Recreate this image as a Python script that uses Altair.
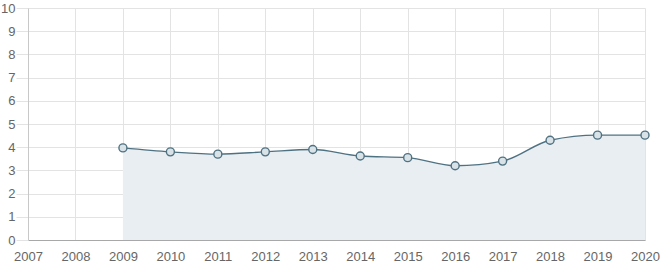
import altair as alt
import pandas as pd

years = [2009, 2010, 2011, 2012, 2013, 2014, 2015, 2016, 2017, 2018, 2019, 2020]
values = [3.97, 3.8, 3.7, 3.8, 3.9, 3.62, 3.55, 3.2, 3.4, 4.3, 4.52, 4.52]
x_ticks = list(range(2007, 2021))
y_ticks = list(range(0, 11))

df = pd.DataFrame({"year": years, "value": values})

line_color = "#4f7282"

x = alt.X("year:Q", scale=alt.Scale(domain=[2007, 2020], nice=False),
          axis=alt.Axis(values=x_ticks, format="d", title=None, grid=True,
                        gridColor="#e3e3e3", ticks=False, labelPadding=10,
                        labelFlush=False, labelOverlap=False,
                        domainColor="#a8a8a8", labelColor="#666", labelFontSize=13,
                        labelFont="Liberation Sans"))
y = alt.Y("value:Q", scale=alt.Scale(domain=[0, 10], nice=False),
          axis=alt.Axis(values=y_ticks, title=None, grid=True, gridColor="#e3e3e3",
                        tickColor="#e3e3e3", tickSize=12, labelPadding=1,
                        labelFlush=False, labelOverlap=False,
                        domainColor="#c8c8c8", labelColor="#666", labelFontSize=13,
                        labelFont="Liberation Sans"))

base = alt.Chart(df)
area = base.mark_area(interpolate="monotone", color="#e8eef1", opacity=1).encode(x=x, y=y)
line = base.mark_line(interpolate="monotone", color=line_color, strokeWidth=1.4).encode(x=x, y=y)
pts = base.mark_point(shape="circle", size=64, filled=True, fill="#d8e2e7",
                      stroke=line_color, strokeWidth=1.4, opacity=1).encode(x=x, y=y)

chart = (area + line + pts).properties(
    width=617, height=232,
    autosize=alt.AutoSizeParams(type="none"),
    padding={"left": 28, "top": 8, "right": 18, "bottom": 35},
).configure_view(stroke=None)

chart.save("out.html", embed_options={"renderer": "svg", "actions": False})
